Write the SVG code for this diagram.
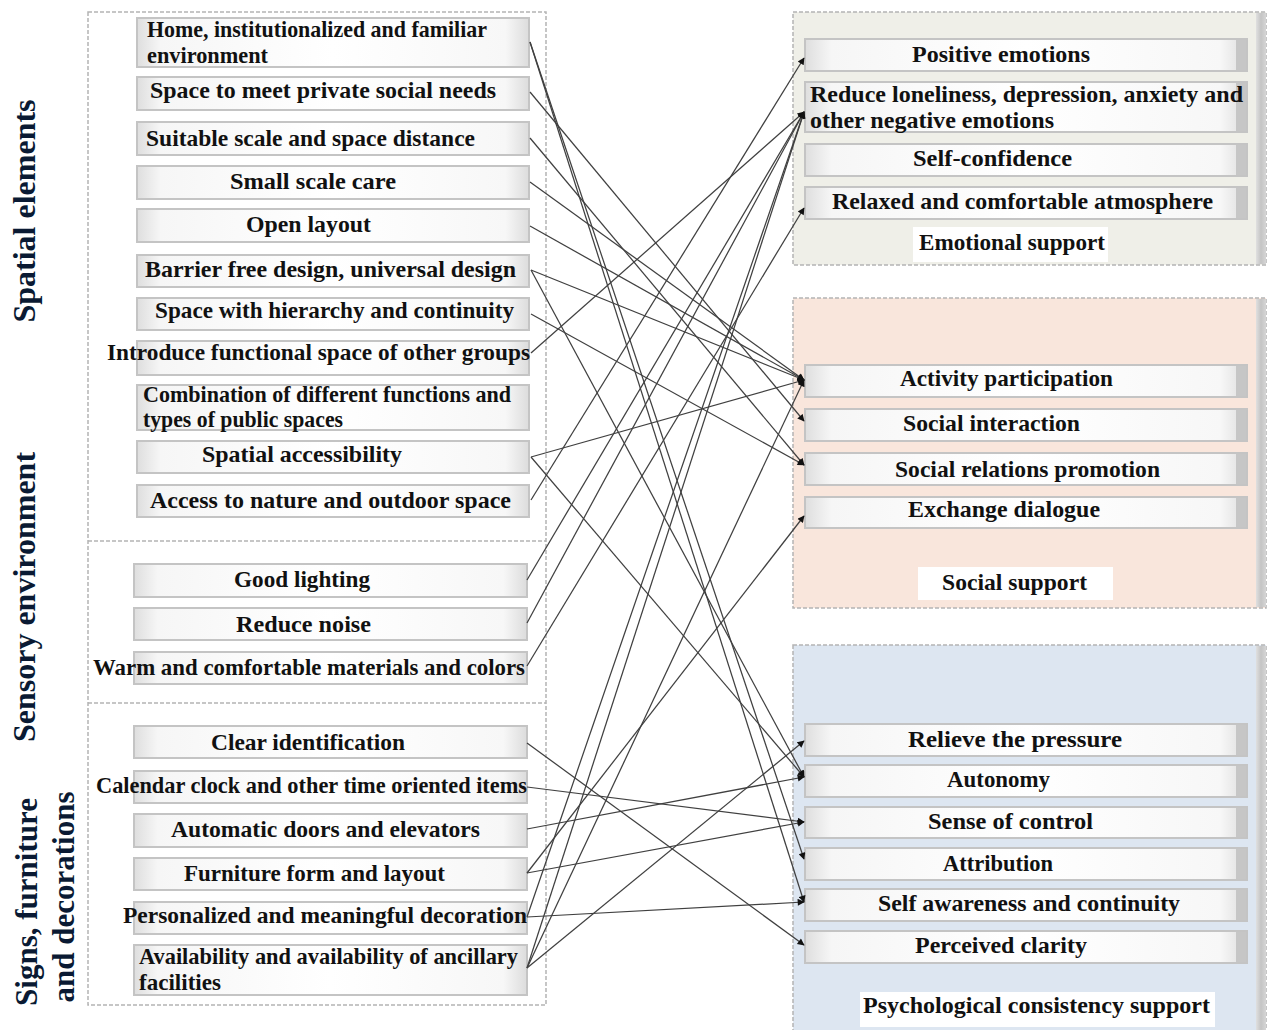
<svg xmlns="http://www.w3.org/2000/svg" width="1269" height="1030" viewBox="0 0 1269 1030">
<defs>
<style>
.t{font-family:"Liberation Serif","Times New Roman",serif;font-weight:bold;font-size:23px;fill:#111}
.g{font-family:"Liberation Serif","Times New Roman",serif;font-weight:bold;font-size:32px;fill:#0a1a33}
.box{fill:url(#bg);stroke:#c4c4c4;stroke-width:2}
.rbox{fill:url(#bg);stroke:#c4c4c4;stroke-width:2}
.strip{fill:#c6c6c6}
.panel{stroke:#b4b4b4;stroke-width:1.5;stroke-dasharray:4 2}
.lbl{fill:#fff}
.c line{stroke:#404040;stroke-width:1.25;marker-end:url(#ah)}
</style>
<linearGradient id="bg" x1="0" y1="0" x2="1" y2="0">
<stop offset="0" stop-color="#dedede"/><stop offset="0.06" stop-color="#f6f6f6"/><stop offset="0.5" stop-color="#ffffff"/><stop offset="0.94" stop-color="#f7f7f7"/><stop offset="1" stop-color="#dcdcdc"/>
</linearGradient>
<linearGradient id="band" x1="0" y1="0" x2="1" y2="0">
<stop offset="0" stop-color="#e0e0e0"/><stop offset="0.5" stop-color="#c4c4c4"/><stop offset="1" stop-color="#d6d6d6"/>
</linearGradient>
<marker id="ah" viewBox="0 0 10 10" refX="9" refY="5" markerWidth="9" markerHeight="7" markerUnits="userSpaceOnUse" orient="auto">
<path d="M0,0 L10,5 L0,10 z" fill="#111"/>
</marker>
</defs>
<rect width="1269" height="1030" fill="#fff"/>

<g id="left-panel">
<rect x="88" y="12" width="458" height="993" fill="#fff" class="panel"/>
<line x1="88" y1="541" x2="546" y2="541" class="panel"/>
<line x1="88" y1="703" x2="546" y2="703" class="panel"/>
</g>

<g id="group-labels">
<text class="g" transform="translate(35,211) rotate(-90)" text-anchor="middle">Spatial elements</text>
<text class="g" transform="translate(35,597) rotate(-90)" text-anchor="middle">Sensory environment</text>
<text class="g" transform="translate(37,902) rotate(-90)" text-anchor="middle" style="font-size:31px">Signs, furniture</text>
<text class="g" transform="translate(74,897) rotate(-90)" text-anchor="middle" style="font-size:31px">and decorations</text>
</g>

<g id="panel-emotional">
<rect x="793" y="12" width="473" height="253" fill="#efefe8" class="panel"/>
<rect x="1256" y="13" width="10" height="251" fill="url(#band)"/>
</g>
<g id="panel-social">
<rect x="793" y="298" width="473" height="310" fill="#f9e6dc" class="panel"/>
<rect x="1256" y="299" width="10" height="308" fill="url(#band)"/>
</g>
<g id="panel-psych">
<rect x="793" y="645" width="473" height="390" fill="#dde6f1" class="panel"/>
<rect x="1256" y="646" width="10" height="384" fill="url(#band)"/>
</g>

<g id="n-home"><rect class="box" x="137" y="18" width="392" height="49"/><text class="t" x="147" y="37" textLength="340" lengthAdjust="spacingAndGlyphs">Home, institutionalized and familiar</text><text class="t" x="147" y="63" textLength="121" lengthAdjust="spacingAndGlyphs">environment</text></g>
<g id="n-private"><rect class="box" x="137" y="77" width="392" height="33"/><text class="t" x="150" y="98" textLength="346" lengthAdjust="spacingAndGlyphs">Space to meet private social needs</text></g>
<g id="n-suitable"><rect class="box" x="137" y="122" width="392" height="33"/><text class="t" x="146" y="146" textLength="329" lengthAdjust="spacingAndGlyphs">Suitable scale and space distance</text></g>
<g id="n-small"><rect class="box" x="137" y="166" width="392" height="33"/><text class="t" x="230" y="189" textLength="166" lengthAdjust="spacingAndGlyphs">Small scale care</text></g>
<g id="n-open"><rect class="box" x="137" y="209" width="392" height="33"/><text class="t" x="246" y="232" textLength="125" lengthAdjust="spacingAndGlyphs">Open layout</text></g>
<g id="n-barrier"><rect class="box" x="137" y="255" width="392" height="32"/><text class="t" x="145" y="277" textLength="371" lengthAdjust="spacingAndGlyphs">Barrier free design, universal design</text></g>
<g id="n-hierarchy"><rect class="box" x="137" y="298" width="392" height="32"/><text class="t" x="155" y="318" textLength="359" lengthAdjust="spacingAndGlyphs">Space with hierarchy and continuity</text></g>
<g id="n-introduce"><rect class="box" x="137" y="341" width="392" height="34"/><text class="t" x="107" y="360" textLength="423" lengthAdjust="spacingAndGlyphs">Introduce functional space of other groups</text></g>
<g id="n-combination"><rect class="box" x="137" y="385" width="392" height="45"/><text class="t" x="143" y="402" textLength="368" lengthAdjust="spacingAndGlyphs">Combination of different functions and</text><text class="t" x="143" y="427" textLength="200" lengthAdjust="spacingAndGlyphs">types of public spaces</text></g>
<g id="n-accessibility"><rect class="box" x="137" y="441" width="392" height="32"/><text class="t" x="202" y="462" textLength="200" lengthAdjust="spacingAndGlyphs">Spatial accessibility</text></g>
<g id="n-nature"><rect class="box" x="137" y="485" width="392" height="32"/><text class="t" x="150" y="508" textLength="361" lengthAdjust="spacingAndGlyphs">Access to nature and outdoor space</text></g>
<g id="n-lighting"><rect class="box" x="134" y="564" width="393" height="33"/><text class="t" x="234" y="587" textLength="136" lengthAdjust="spacingAndGlyphs">Good lighting</text></g>
<g id="n-noise"><rect class="box" x="134" y="608" width="393" height="32"/><text class="t" x="236" y="632" textLength="135" lengthAdjust="spacingAndGlyphs">Reduce noise</text></g>
<g id="n-warm"><rect class="box" x="134" y="652" width="393" height="32"/><text class="t" x="93" y="675" textLength="432" lengthAdjust="spacingAndGlyphs">Warm and comfortable materials and colors</text></g>
<g id="n-clear"><rect class="box" x="134" y="726" width="393" height="32"/><text class="t" x="211" y="750" textLength="194" lengthAdjust="spacingAndGlyphs">Clear identification</text></g>
<g id="n-calendar"><rect class="box" x="134" y="771" width="393" height="32"/><text class="t" x="96" y="793" textLength="431" lengthAdjust="spacingAndGlyphs">Calendar clock and other time oriented items</text></g>
<g id="n-doors"><rect class="box" x="134" y="814" width="393" height="33"/><text class="t" x="171" y="837" textLength="309" lengthAdjust="spacingAndGlyphs">Automatic doors and elevators</text></g>
<g id="n-furniture"><rect class="box" x="134" y="858" width="393" height="32"/><text class="t" x="184" y="881" textLength="261" lengthAdjust="spacingAndGlyphs">Furniture form and layout</text></g>
<g id="n-decoration"><rect class="box" x="134" y="902" width="393" height="32"/><text class="t" x="123" y="923" textLength="404" lengthAdjust="spacingAndGlyphs">Personalized and meaningful decoration</text></g>
<g id="n-ancillary"><rect class="box" x="134" y="945" width="393" height="50"/><text class="t" x="139" y="964" textLength="379" lengthAdjust="spacingAndGlyphs">Availability and availability of ancillary</text><text class="t" x="139" y="990" textLength="82" lengthAdjust="spacingAndGlyphs">facilities</text></g>

<g id="n-positive"><rect class="rbox" x="805" y="39" width="442" height="32"/><rect class="strip" x="1236" y="40" width="10" height="30"/><text class="t" x="912" y="62" textLength="178" lengthAdjust="spacingAndGlyphs">Positive emotions</text></g>
<g id="n-reduce"><rect class="rbox" x="805" y="82" width="442" height="50"/><rect class="strip" x="1236" y="83" width="10" height="48"/><text class="t" x="810" y="102" textLength="433" lengthAdjust="spacingAndGlyphs">Reduce loneliness, depression, anxiety and</text><text class="t" x="810" y="128" textLength="244" lengthAdjust="spacingAndGlyphs">other negative emotions</text></g>
<g id="n-confidence"><rect class="rbox" x="805" y="144" width="442" height="32"/><rect class="strip" x="1236" y="145" width="10" height="30"/><text class="t" x="913" y="166" textLength="159" lengthAdjust="spacingAndGlyphs">Self-confidence</text></g>
<g id="n-relaxed"><rect class="rbox" x="805" y="187" width="442" height="32"/><rect class="strip" x="1236" y="188" width="10" height="30"/><text class="t" x="832" y="209" textLength="381" lengthAdjust="spacingAndGlyphs">Relaxed and comfortable atmosphere</text></g>
<g id="n-emotional"><rect class="lbl" x="913" y="227" width="195" height="35"/><text class="t" x="919" y="250" textLength="186" lengthAdjust="spacingAndGlyphs">Emotional support</text></g>

<g id="n-activity"><rect class="rbox" x="805" y="365" width="442" height="32"/><rect class="strip" x="1236" y="366" width="10" height="30"/><text class="t" x="900" y="386" textLength="213" lengthAdjust="spacingAndGlyphs">Activity participation</text></g>
<g id="n-interaction"><rect class="rbox" x="805" y="409" width="442" height="32"/><rect class="strip" x="1236" y="410" width="10" height="30"/><text class="t" x="903" y="431" textLength="177" lengthAdjust="spacingAndGlyphs">Social interaction</text></g>
<g id="n-relations"><rect class="rbox" x="805" y="453" width="442" height="32"/><rect class="strip" x="1236" y="454" width="10" height="30"/><text class="t" x="895" y="477" textLength="265" lengthAdjust="spacingAndGlyphs">Social relations promotion</text></g>
<g id="n-exchange"><rect class="rbox" x="805" y="497" width="442" height="31"/><rect class="strip" x="1236" y="498" width="10" height="29"/><text class="t" x="908" y="517" textLength="192" lengthAdjust="spacingAndGlyphs">Exchange dialogue</text></g>
<g id="n-social"><rect class="lbl" x="918" y="567" width="195" height="33"/><text class="t" x="942" y="590" textLength="145" lengthAdjust="spacingAndGlyphs">Social support</text></g>

<g id="n-pressure"><rect class="rbox" x="805" y="724" width="442" height="32"/><rect class="strip" x="1236" y="725" width="10" height="30"/><text class="t" x="908" y="747" textLength="214" lengthAdjust="spacingAndGlyphs">Relieve the pressure</text></g>
<g id="n-autonomy"><rect class="rbox" x="805" y="765" width="442" height="32"/><rect class="strip" x="1236" y="766" width="10" height="30"/><text class="t" x="947" y="787" textLength="103" lengthAdjust="spacingAndGlyphs">Autonomy</text></g>
<g id="n-control"><rect class="rbox" x="805" y="807" width="442" height="31"/><rect class="strip" x="1236" y="808" width="10" height="29"/><text class="t" x="928" y="829" textLength="165" lengthAdjust="spacingAndGlyphs">Sense of control</text></g>
<g id="n-attribution"><rect class="rbox" x="805" y="848" width="442" height="32"/><rect class="strip" x="1236" y="849" width="10" height="30"/><text class="t" x="943" y="871" textLength="110" lengthAdjust="spacingAndGlyphs">Attribution</text></g>
<g id="n-awareness"><rect class="rbox" x="805" y="889" width="442" height="32"/><rect class="strip" x="1236" y="890" width="10" height="30"/><text class="t" x="878" y="911" textLength="302" lengthAdjust="spacingAndGlyphs">Self awareness and continuity</text></g>
<g id="n-clarity"><rect class="rbox" x="805" y="931" width="442" height="32"/><rect class="strip" x="1236" y="932" width="10" height="30"/><text class="t" x="915" y="953" textLength="172" lengthAdjust="spacingAndGlyphs">Perceived clarity</text></g>
<g id="n-psych"><rect class="lbl" x="860" y="992" width="355" height="35"/><text class="t" x="863" y="1013" textLength="347" lengthAdjust="spacingAndGlyphs">Psychological consistency support</text></g>

<g id="connectors" class="c">
<line x1="530" y1="42" x2="804" y2="859"/>
<line x1="530" y1="42" x2="804" y2="902"/>
<line x1="530" y1="92" x2="804" y2="421"/>
<line x1="530" y1="138" x2="804" y2="465"/>
<line x1="530" y1="182" x2="804" y2="380"/>
<line x1="530" y1="226" x2="804" y2="380"/>
<line x1="531" y1="270" x2="804" y2="380"/>
<line x1="531" y1="270" x2="804" y2="777"/>
<line x1="531" y1="314" x2="804" y2="465"/>
<line x1="531" y1="353" x2="804" y2="112"/>
<line x1="531" y1="457" x2="804" y2="380"/>
<line x1="531" y1="457" x2="804" y2="777"/>
<line x1="531" y1="500" x2="804" y2="58"/>
<line x1="527" y1="580" x2="804" y2="112"/>
<line x1="527" y1="623" x2="804" y2="112"/>
<line x1="527" y1="666" x2="804" y2="208"/>
<line x1="527" y1="743" x2="804" y2="945"/>
<line x1="527" y1="787" x2="804" y2="822"/>
<line x1="527" y1="829" x2="804" y2="777"/>
<line x1="527" y1="873" x2="804" y2="822"/>
<line x1="527" y1="873" x2="804" y2="516"/>
<line x1="527" y1="917" x2="804" y2="902"/>
<line x1="527" y1="917" x2="804" y2="112"/>
<line x1="527" y1="968" x2="804" y2="741"/>
<line x1="527" y1="968" x2="804" y2="380"/>
<line x1="527" y1="968" x2="804" y2="112"/>
</g>
</svg>
